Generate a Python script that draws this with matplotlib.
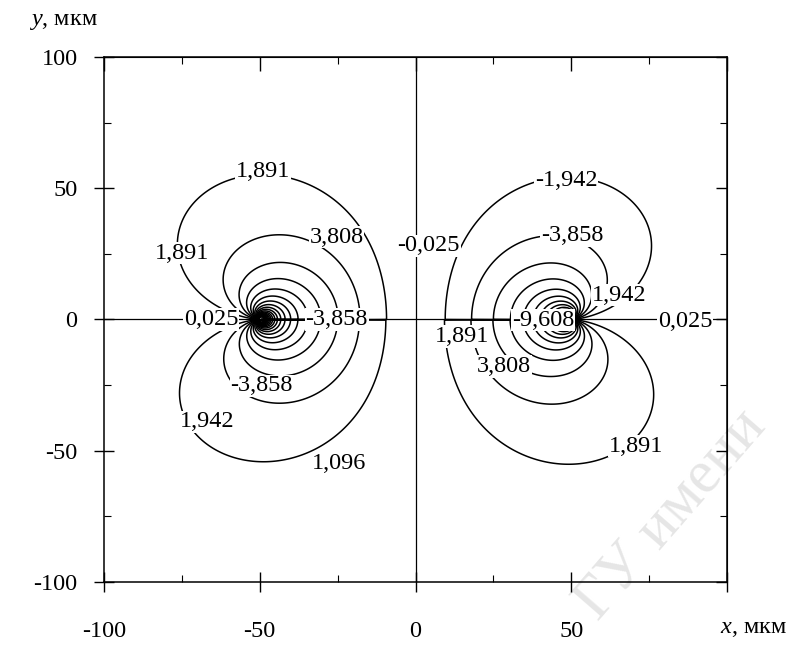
import numpy as np
import matplotlib
matplotlib.use("Agg")
import matplotlib.pyplot as plt
from matplotlib.ticker import MultipleLocator

plt.rcParams['font.family'] = ['Liberation Serif', 'DejaVu Serif']
plt.rcParams['mathtext.fontset'] = 'custom'
plt.rcParams['mathtext.it'] = 'Liberation Serif:italic'
plt.rcParams['mathtext.rm'] = 'Liberation Serif'
plt.rcParams['axes.unicode_minus'] = False

# twin (crack-like defect) along y=0, tips at +-50 mkm
half_length = 50.0
field_scale = 10.0

# contour levels: -9,608; -3,858; -1,942; -0,025; 1,891; 3,808 ...
level_first = -9.608
level_step = 1.9167
steps_below = 16
steps_above = 26

x_ticks = [-100, -50, 0, 50, 100]
x_tick_labels = ['-100', '-50', '0', '50', '']
y_ticks = [-100, -50, 0, 50, 100]
y_tick_labels = ['-100', '-50', '0', '50', '100']

# contour labels as printed on the figure
label_text = ['1,891', '1,891', '3,808', '-0,025', '0,025', '-3,858', '-3,858',
              '1,942', '1,096', '-1,942', '-3,858', '1,942', '0,025', '-9,608',
              '1,891', '3,808', '1,891']
label_x = [-49.0, -75.0, -25.3, 4.2, -65.5, -25.3, -49.4,
           -67.0, -24.7, 48.4, 50.3, 65.4, 86.5, 41.0,
           15.0, 28.5, 70.8]
label_y = [56.2, 25.3, 31.4, 28.0, 0.0, 0.0, -25.3,
           -39.0, -54.7, 52.8, 31.8, 9.3, -0.8, -0.3,
           -6.5, -18.0, -48.2]


def field(X, Y):
    z = X + 1j * Y
    with np.errstate(all='ignore'):
        w = z / (np.sqrt(z - half_length) * np.sqrt(z + half_length))
    f = field_scale * w.imag
    f[~np.isfinite(f)] = np.nan
    return f


def main():
    x = np.linspace(-100, 100, 801)
    y = np.linspace(-100, 100, 801)
    X, Y = np.meshgrid(x, y)
    F = field(X, Y)
    levels = level_first + level_step * np.arange(-steps_below, steps_above + 1)
    # the near-zero level runs along the axes; drawn as straight lines below
    levels = levels[np.abs(levels) > 0.1]

    fig = plt.figure(figsize=(7.98, 6.45), dpi=100)
    ax = fig.add_axes([0.1303, 0.0977, 0.7808, 0.8140])
    ax.set_facecolor('none')

    # watermark of the scanned page
    fig.text(0.749, 0.036, 'ГУ имени', rotation=49, rotation_mode='anchor',
             ha='left', va='baseline', fontsize=44, color='#e6e6e6', zorder=-1)

    ax.axhline(0, color='black', lw=0.9)
    ax.axvline(0, color='black', lw=0.9)
    ax.contour(X, Y, F, levels=levels, colors='black', linewidths=1.1,
               linestyles='solid')

    for t, lx, ly in zip(label_text, label_x, label_y):
        ax.text(lx, ly, t, ha='center', va='center', fontsize=17.5,
                bbox=dict(fc='white', ec='none', pad=0.5))

    ax.set_xlim(-100, 100)
    ax.set_ylim(-100, 100)
    ax.set_xticks(x_ticks)
    ax.set_xticklabels(x_tick_labels)
    ax.set_yticks(y_ticks)
    ax.set_yticklabels(y_tick_labels)
    ax.xaxis.set_minor_locator(MultipleLocator(25))
    ax.yaxis.set_minor_locator(MultipleLocator(25))
    ax.tick_params(which='major', direction='inout', length=14, width=1.0,
                   labelsize=17.5)
    ax.tick_params(which='minor', direction='in', length=5, width=0.8)
    ax.tick_params(axis='x', pad=21)
    ax.tick_params(axis='y', pad=12)
    for s in ax.spines.values():
        s.set_linewidth(1.1)

    # top and right: inward ticks only
    top = ax.secondary_xaxis('top')
    top.set_xticks(x_ticks)
    top.xaxis.set_minor_locator(MultipleLocator(25))
    top.tick_params(which='major', direction='in', length=10, width=1.0, labeltop=False)
    top.tick_params(which='minor', direction='in', length=5, width=0.8)
    right = ax.secondary_yaxis('right')
    right.set_yticks(y_ticks)
    right.yaxis.set_minor_locator(MultipleLocator(25))
    right.tick_params(which='major', direction='in', length=8, width=1.0, labelright=False)
    right.tick_params(which='minor', direction='in', length=5, width=0.8)

    fig.text(0.079, 0.966, '$y$, мкм', ha='center', va='center', fontsize=17.5)
    fig.text(0.944, 0.026, '$x$, мкм', ha='center', va='center', fontsize=17.5)

    fig.savefig('out.png', dpi=100)


if __name__ == "__main__":
    main()
